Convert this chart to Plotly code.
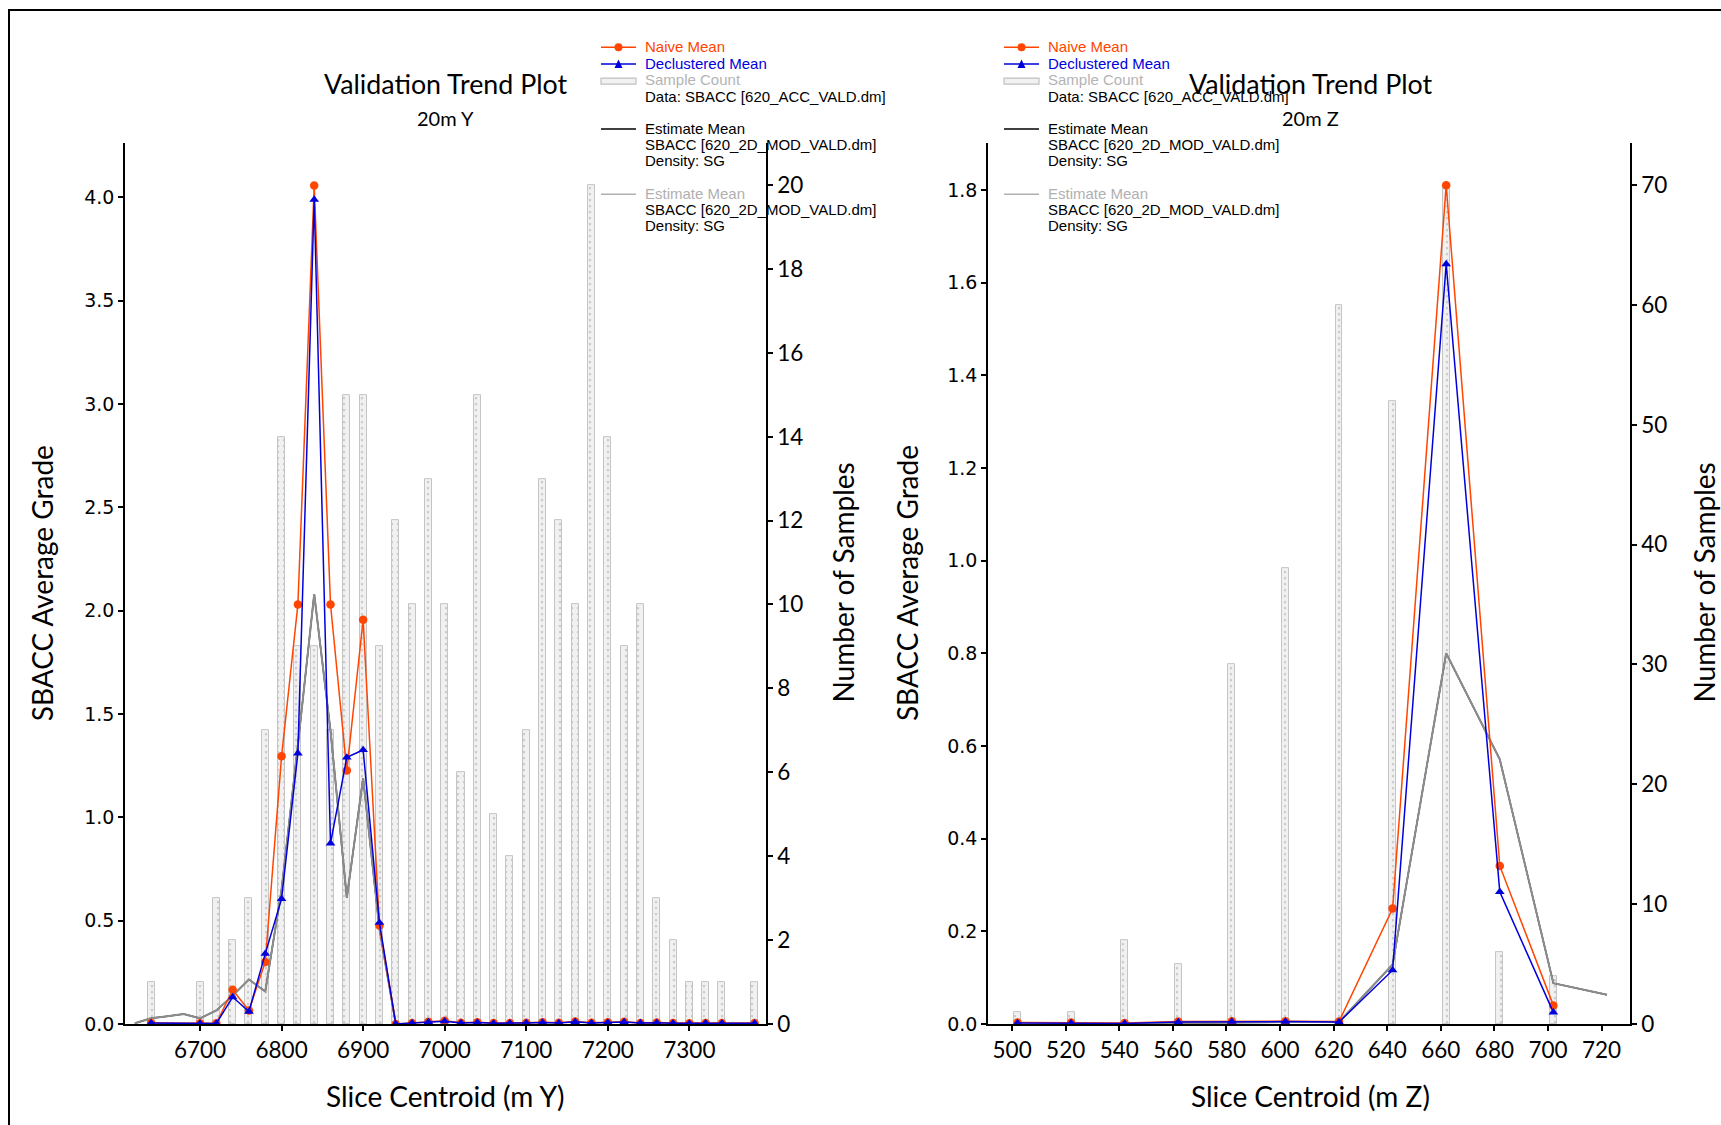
import plotly.graph_objects as go

# ---------------- data : left panel (20m Y) ----------------
y_centroids = [6640, 6700, 6720, 6740, 6760, 6780, 6800, 6820, 6840, 6860, 6880, 6900,
               6920, 6940, 6960, 6980, 7000, 7020, 7040, 7060, 7080, 7100, 7120, 7140,
               7160, 7180, 7200, 7220, 7240, 7260, 7280, 7300, 7320, 7340, 7380]
y_counts = [1, 1, 3, 2, 3, 7, 14, 9, 9, 7, 15, 15, 9, 12, 10, 13, 10, 6, 15, 5, 4, 7,
            13, 12, 10, 20, 14, 9, 10, 3, 2, 1, 1, 1, 1]
y_naive = [0.005, 0.003, 0.003, 0.165, 0.065, 0.30, 1.295, 2.03, 4.058, 2.03, 1.226, 1.956,
           0.476, 0.0, 0.005, 0.010, 0.015, 0.006, 0.008, 0.004, 0.004, 0.006, 0.008, 0.006,
           0.012, 0.006, 0.008, 0.010, 0.005, 0.007, 0.004, 0.003, 0.005, 0.004, 0.004]
y_declust = [0.004, 0.002, 0.002, 0.13, 0.06, 0.34, 0.605, 1.31, 3.99, 0.874, 1.29, 1.326,
             0.49, 0.0, 0.004, 0.009, 0.013, 0.005, 0.007, 0.003, 0.003, 0.005, 0.007, 0.005,
             0.010, 0.005, 0.007, 0.009, 0.004, 0.006, 0.003, 0.002, 0.004, 0.003, 0.003]
y_est_x = [6620, 6640, 6660, 6680, 6700, 6720, 6740, 6760, 6780, 6800, 6820, 6840, 6860,
           6880, 6900, 6920, 6940]
y_est = [0.003, 0.027, 0.037, 0.048, 0.027, 0.065, 0.137, 0.215, 0.157, 0.65, 1.35, 2.08,
         1.42, 0.61, 1.19, 0.46, 0.0]

# ---------------- data : right panel (20m Z) ----------------
z_centroids = [502, 522, 542, 562, 582, 602, 622, 642, 662, 682, 702]
z_counts = [1, 1, 7, 5, 30, 38, 60, 52, 70, 6, 4]
z_naive = [0.003, 0.003, 0.002, 0.005, 0.006, 0.006, 0.005, 0.249, 1.81, 0.341, 0.04]
z_declust = [0.002, 0.002, 0.001, 0.004, 0.005, 0.005, 0.004, 0.116, 1.64, 0.285, 0.025]
z_est_x = [542, 562, 582, 602, 622, 642, 662, 682, 702, 722]
z_est = [0.0, 0.002, 0.003, 0.004, 0.004, 0.128, 0.80, 0.571, 0.088, 0.063]

y_ticks = [6700, 6800, 6900, 7000, 7100, 7200, 7300]
z_ticks = list(range(500, 721, 20))

W, H = 1721, 1125
H_EFF = 1111  # observed effective rendering height of the page
ORANGE = "#ff4500"
BLUE = "#0000dd"
CALIBRI = "Lato"
ARIAL = "Liberation Sans"


def px(x):
    return x / W


def py(y):
    return 1 - y / H_EFF


fig = go.Figure()

pattern = dict(shape=".", fgcolor="#a0a0a0", bgcolor="#f1f1f1", size=6, solidity=0.12)


def add_panel(xa, ycount, ygrade, xs, counts, naive, decl, ex, ey, barw):
    fig.add_trace(go.Bar(x=xs, y=counts, width=barw, xaxis=xa, yaxis=ycount,
                         marker=dict(color="#f1f1f1", line=dict(color="#c4c4c4", width=1),
                                     pattern=pattern),
                         showlegend=False))
    fig.add_trace(go.Scatter(x=ex, y=ey, xaxis=xa, yaxis=ygrade, mode="lines",
                             line=dict(color="black", width=1.5), showlegend=False))
    fig.add_trace(go.Scatter(x=ex, y=ey, xaxis=xa, yaxis=ygrade, mode="lines",
                             line=dict(color="#8c8c8c", width=2), showlegend=False))
    fig.add_trace(go.Scatter(x=xs, y=naive, xaxis=xa, yaxis=ygrade, mode="lines+markers",
                             line=dict(color=ORANGE, width=1.5),
                             marker=dict(symbol="circle", size=8.5, color=ORANGE),
                             showlegend=False))
    fig.add_trace(go.Scatter(x=xs, y=decl, xaxis=xa, yaxis=ygrade, mode="lines+markers",
                             line=dict(color=BLUE, width=1.5),
                             marker=dict(symbol="triangle-up", size=8.5, color=BLUE),
                             showlegend=False))


add_panel("x", "y", "y2", y_centroids, y_counts, y_naive, y_declust, y_est_x, y_est, 8.6)
add_panel("x2", "y3", "y4", z_centroids, z_counts, z_naive, z_declust, z_est_x, z_est, 2.6)

ydom = [py(1023), py(143)]
common_ax = dict(showgrid=False, zeroline=False, showline=True, linecolor="black",
                 linewidth=1.5, ticks="outside", ticklen=5, tickwidth=1.5,
                 tickcolor="black")

fig.update_layout(
    width=W, height=H, margin=dict(l=0, r=0, t=0, b=0),
    paper_bgcolor="white", plot_bgcolor="rgba(0,0,0,0)",
    bargap=0, showlegend=False,
    xaxis=dict(domain=[px(125), px(766)], range=[6608, 7394], anchor="y",
               tickvals=y_ticks, tickfont=dict(family=CALIBRI, size=22.5, color="black"),
               **common_ax),
    yaxis=dict(domain=ydom, range=[0, 21], anchor="x", side="right",
               tickvals=list(range(0, 21, 2)),
               tickfont=dict(family=CALIBRI, size=22.5, color="black"), **common_ax),
    yaxis2=dict(range=[0, 4.263], overlaying="y", anchor="x", side="left",
                tickvals=[0, 0.5, 1, 1.5, 2, 2.5, 3, 3.5, 4], tickformat=".1f",
                tickfont=dict(family="DejaVu Sans", size=19, color="black"), **common_ax),
    xaxis2=dict(domain=[px(988), px(1630)], range=[491, 730.6], anchor="y3",
                tickvals=z_ticks, tickfont=dict(family=CALIBRI, size=22.5, color="black"),
                **common_ax),
    yaxis3=dict(domain=ydom, range=[0, 73.5], anchor="x2", side="right",
                tickvals=list(range(0, 71, 10)),
                tickfont=dict(family=CALIBRI, size=22.5, color="black"), **common_ax),
    yaxis4=dict(range=[0, 1.901], overlaying="y3", anchor="x2", side="left",
                tickvals=[0, 0.2, 0.4, 0.6, 0.8, 1.0, 1.2, 1.4, 1.6, 1.8], tickformat=".1f",
                tickfont=dict(family="DejaVu Sans", size=19, color="black"), **common_ax),
)

ann = []
shapes = []


def text(x, y, s, size, family, color="black", anchor="center", angle=0):
    ann.append(dict(x=px(x), y=py(y), xref="paper", yref="paper", text=s, showarrow=False,
                    xanchor=anchor, yanchor="middle", textangle=angle,
                    font=dict(family=family, size=size, color=color)))


# titles & axis titles
for cx, sub, xt in [(445.5, "20m Y", "Slice Centroid (m Y)"),
                    (1310, "20m Z", "Slice Centroid (m Z)")]:
    text(cx, 84.0, "Validation Trend Plot", 26.8, CALIBRI)
    text(cx, 118.0, sub, 20, CALIBRI)
    text(cx, 1095, xt, 28, CALIBRI)
for gx, nx in [(41.7, 843), (906.6, 1704)]:
    text(gx, 583, "SBACC Average Grade", 28, CALIBRI, angle=-90)
    text(nx, 582, "Number of Samples", 28, CALIBRI, angle=-90)

# legends
LEG_ROWS = [
    (46.5, "Naive Mean", ORANGE),
    (63.0, "Declustered Mean", BLUE),
    (79.5, "Sample Count", "#b4b4b4"),
    (96.0, "Data: SBACC [620_ACC_VALD.dm]", "black"),
    (128.0, "Estimate Mean", "black"),
    (144.5, "SBACC [620_2D_MOD_VALD.dm]", "black"),
    (160.7, "Density: SG", "black"),
    (193.0, "Estimate Mean", "#b0b0b0"),
    (209.5, "SBACC [620_2D_MOD_VALD.dm]", "black"),
    (225.7, "Density: SG", "black"),
]
for lx0, lx1, tx in [(601, 636, 643), (1004, 1039, 1046)]:
    for yy, s, c in LEG_ROWS:
        text(tx, yy, s, 15, ARIAL, color=c, anchor="left")
    mx = (lx0 + lx1) / 2

    def line(y, color, w=1.5):
        shapes.append(dict(type="line", xref="paper", yref="paper", x0=px(lx0), x1=px(lx1),
                           y0=py(y), y1=py(y), line=dict(color=color, width=w)))

    line(47.3, ORANGE)
    shapes.append(dict(type="circle", xref="paper", yref="paper", x0=px(mx - 4), x1=px(mx + 4),
                       y0=py(47.3 + 4), y1=py(47.3 - 4), fillcolor=ORANGE,
                       line=dict(color=ORANGE, width=0)))
    line(64.0, BLUE)
    shapes.append(dict(type="path", xref="paper", yref="paper",
                       path=f"M {px(mx - 4)} {py(68)} L {px(mx + 4)} {py(68)} L {px(mx)} {py(59.5)} Z",
                       fillcolor=BLUE, line=dict(color=BLUE, width=0)))
    shapes.append(dict(type="rect", xref="paper", yref="paper", x0=px(lx0), x1=px(lx1),
                       y0=py(84), y1=py(78), fillcolor="#f1f1f1",
                       line=dict(color="#c0c0c0", width=1.2)))
    line(129.0, "black")
    line(194.0, "#b0b0b0")

# outer frame
shapes.append(dict(type="rect", xref="paper", yref="paper", x0=px(9), x1=1.02,
                   y0=-0.03, y1=py(10), line=dict(color="black", width=2)))

fig.update_layout(annotations=ann, shapes=shapes)

fig.write_html("out.html", config={"displayModeBar": False},
               post_script="document.body.style.margin='0px';")
